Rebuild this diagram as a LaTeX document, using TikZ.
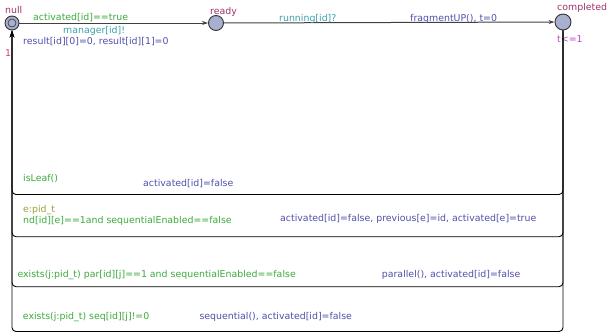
\documentclass[tikz,border=0pt]{standalone}
\usepackage{fontspec}
\setmainfont{DejaVu Sans}
\usetikzlibrary{arrows.meta}
\definecolor{locname}{RGB}{160,50,110}
\definecolor{guardc}{RGB}{60,170,60}
\definecolor{syncc}{RGB}{60,160,170}
\definecolor{assignc}{RGB}{80,80,170}
\definecolor{invc}{RGB}{190,70,190}
\definecolor{selc}{RGB}{160,160,60}
\definecolor{probc}{RGB}{220,60,120}
\definecolor{locfill}{RGB}{168,176,208}
\begin{document}
\begin{tikzpicture}[x=1pt,y=-1pt,
  every node/.style={font=\fontsize{9.4}{11}\selectfont, inner sep=0pt},
  loc/.style={circle, draw=black!80, fill=locfill, line width=0.9pt, minimum size=15pt},
  lbl/.style={anchor=base west},
  edge/.style={line width=1pt, -{Stealth[length=6pt,width=4pt]}},
  back/.style={line width=0.9pt, rounded corners=4pt, -{Stealth[length=7pt,width=4.5pt]}}]
\useasboundingbox (0,0) rectangle (608,333);
% locations
\node[loc, minimum size=14pt] (null) at (12,23) {};
\node[circle, draw=black!80, line width=0.6pt, minimum size=8pt] (nullin) at (12,23) {};
\node[loc] (ready) at (216,23) {};
\node[loc, minimum size=16pt] (completed) at (563,22) {};
% location labels
\node[lbl, text=locname] (lnull) at (5,13.3) {null};
\node[lbl, text=locname] (lready) at (210,14) {ready};
\node[lbl, text=locname] (lcomp) at (557,10.7) {completed};
\node[lbl, text=invc] (linv) at (557,42.7) {t<=1};
\node[lbl, text=probc] (lprob) at (5,56.7) {1};
% top edges
\draw[edge, draw=black!75] (null) -- (ready);
\draw[edge, draw=black!75] (ready) -- (completed);
\node[lbl, text=guardc] (g1) at (33,20.7) {activated[id]==true};
\node[lbl, text=syncc] (s1) at (63,33.3) {manager[id]!};
\node[lbl, text=assignc] (a1) at (23,44.3) {result[id][0]=0, result[id][1]=0};
\node[lbl, text=syncc] (s2) at (279,21.5) {running[id]?};
\node[lbl, text=assignc] (a2) at (410,21.5) {fragmentUP(), t=0};
% back edges
\coordinate (r1) at (563,194.5);
\coordinate (l1) at (12,194.5);
\coordinate (r2) at (563,236.7);
\coordinate (l2) at (12,236.7);
\coordinate (r3) at (563,286.7);
\coordinate (l3) at (12,286.7);
\coordinate (r4) at (563,331.5);
\coordinate (l4) at (12,331.5);
\draw[back] (completed) -- (r4) -- (l4) -- (null);
\draw[back] (completed) -- (r3) -- (l3) -- (null);
\draw[back] (completed) -- (r2) -- (l2) -- (null);
\draw[back] (completed) -- (r1) -- (l1) -- (null);
% back edge labels
\node[lbl, text=guardc] (g3) at (23,181) {isLeaf()};
\node[lbl, text=assignc] (a3) at (143,186.7) {activated[id]=false};
\node[lbl, text=selc] (e4) at (23,212.3) {e:pid\_t};
\node[lbl, text=guardc] (g4) at (23,223.3) {nd[id][e]==1and sequentialEnabled==false};
\node[lbl, text=assignc] (a4) at (280,221.7) {activated[id]=false, previous[e]=id, activated[e]=true};
\node[lbl, text=guardc] (g5) at (17.3,277.3) {exists(j:pid\_t) par[id][j]==1 and sequentialEnabled==false};
\node[lbl, text=assignc] (a5) at (381.7,277.7) {parallel(), activated[id]=false};
\node[lbl, text=guardc] (g6) at (22.7,319) {exists(j:pid\_t) seq[id][j]!=0};
\node[lbl, text=assignc] (a6) at (199.3,319) {sequential(), activated[id]=false};
\end{tikzpicture}
\end{document}
